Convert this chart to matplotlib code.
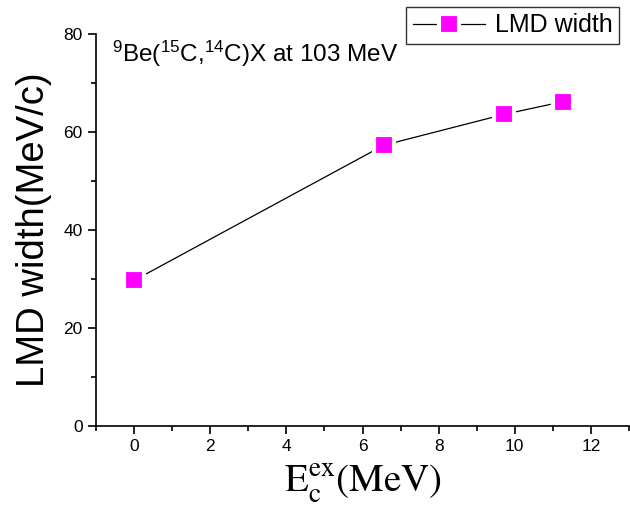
import matplotlib
matplotlib.use("Agg")
import matplotlib.pyplot as plt
from matplotlib.ticker import MultipleLocator

plt.rcParams['font.family'] = ['Liberation Sans', 'DejaVu Sans']
plt.rcParams['mathtext.fontset'] = 'custom'
plt.rcParams['mathtext.rm'] = 'Liberation Sans'
plt.rcParams['mathtext.it'] = 'Liberation Sans'

excitation = [0.0, 6.56, 9.72, 11.27]
lmd_width = [29.7, 57.3, 63.6, 66.2]
series_label = "LMD width"
annotation = r'$^{9}$Be($^{15}$C,$^{14}$C)X at 103 MeV'

fig = plt.figure(figsize=(6.3, 5.19), dpi=100)
ax = fig.add_axes([96/630, 1-426/519, 533/630, 392/519])

ax.plot(excitation, lmd_width, color='black', lw=0.9, marker='s', ms=15,
        markerfacecolor='#FF00FF', markeredgecolor='white', markeredgewidth=3,
        label=series_label)

ax.set_xlim(-1, 13)
ax.set_ylim(0, 80)
ax.xaxis.set_major_locator(MultipleLocator(2))
ax.xaxis.set_minor_locator(MultipleLocator(1))
ax.yaxis.set_major_locator(MultipleLocator(20))
ax.yaxis.set_minor_locator(MultipleLocator(10))
for s in ['top', 'right']:
    ax.spines[s].set_visible(False)
for s in ['left', 'bottom']:
    ax.spines[s].set_linewidth(1.2)
ax.tick_params(which='major', direction='out', length=6, width=1.2, labelsize=12.5)
ax.tick_params(which='minor', direction='out', length=3.5, width=1.2)

ax.set_ylabel('LMD width(MeV/c)', fontsize=27.5, labelpad=8)
ax.set_xlabel(r'$\mathrm{E_{c}^{ex}(MeV)}$', fontsize=28,
              math_fontfamily='stix', labelpad=6)

ax.text(0.03, 0.95, annotation, transform=ax.transAxes, fontsize=17.5, va='center', ha='left')

leg = fig.legend(loc='upper right', bbox_to_anchor=(619/630, 1-7/519), fontsize=18,
                 frameon=True, fancybox=False, edgecolor='black', borderaxespad=0,
                 handlelength=2.9, borderpad=0.25, handletextpad=0.4)
leg.get_frame().set_linewidth(1.0)

fig.savefig('out.png', dpi=100)
